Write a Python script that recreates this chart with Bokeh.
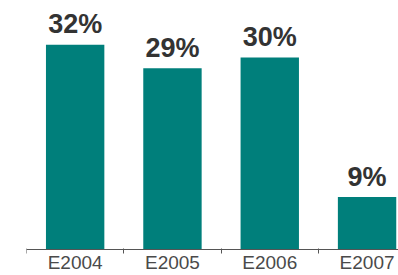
from bokeh.plotting import figure
from bokeh.models import Range1d, FixedTicker, ColumnDataSource
from bokeh.core.properties import value
from bokeh.transform import dodge
from bokeh.embed import file_html
from bokeh.resources import INLINE

categories = ["E2004", "E2005", "E2006", "E2007"]
shares = [32.0, 28.3, 30.0, 8.2]
share_labels = ["32%", "29%", "30%", "9%"]

xs = [i + 0.5 for i in range(len(categories))]
bounds = [float(i) for i in range(len(categories))]

src = ColumnDataSource(dict(x=xs, top=shares, lab=share_labels))

p = figure(width=398, height=275, output_backend="svg", toolbar_location=None,
           x_range=Range1d(0, 3.823), y_range=Range1d(-4.06, 38.9),
           min_border_left=26, min_border_right=0, min_border_top=0,
           min_border_bottom=0)
p.outline_line_color = None
p.background_fill_color = "white"
p.border_fill_color = "white"
p.xgrid.visible = False
p.ygrid.visible = False
p.yaxis.visible = False

p.vbar(x="x", top="top", width=0.6, bottom=0, source=src,
       fill_color="#007f7b", line_color=None)

p.text(x="x", y=dodge("top", 3.2, range=p.y_range), text="lab", source=src,
       text_align="center", text_baseline="alphabetic",
       text_font=value("Liberation Sans"), text_font_style="bold",
       text_font_size="27px", text_color="#333333")

ax = p.xaxis[0]
ax.fixed_location = 0
ax.ticker = FixedTicker(ticks=xs, minor_ticks=bounds)
ax.major_label_overrides = {x: c for x, c in zip(xs, categories)}
ax.major_tick_line_color = None
ax.major_tick_out = 0
ax.major_tick_in = 0
ax.minor_tick_line_color = "#555555"
ax.minor_tick_out = 4
ax.minor_tick_in = 1
ax.axis_line_color = "#555555"
ax.axis_line_width = 1
ax.major_label_standoff = -2
ax.major_label_text_font = "Liberation Sans"
ax.major_label_text_font_size = "19px"
ax.major_label_text_color = "#4a4a4a"

open("out.html", "w").write(file_html(p, INLINE))
